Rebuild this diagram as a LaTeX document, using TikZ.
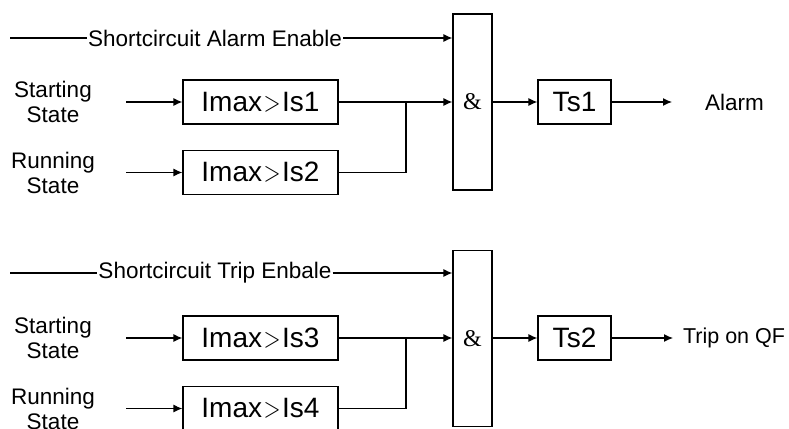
\documentclass[tikz,border=0pt]{standalone}
\usepackage{fontspec}
\setmainfont{Liberation Sans}
\newfontfamily\andfont{Liberation Serif}
\usetikzlibrary{calc, arrows.meta}

\newcommand{\cmpgt}{\kern1.5pt\scalebox{0.9}[1.15]{$>$}\kern1.5pt}
\tikzset{
  blk/.style={draw, minimum height=44pt, inner sep=0pt, font=\fontsize{28}{30}\selectfont},
  lbl/.style={font=\fontsize{22.5}{25}\selectfont, inner sep=0.5pt, align=center},
  andgate/.style={draw, minimum width=39pt, minimum height=176pt, font=\andfont\fontsize{24}{24}\selectfont},
  arr/.style={-{Latex[length=9pt,width=8pt]}},
}

\begin{document}
\begin{tikzpicture}[x=1pt, y=-1pt, line width=1.2pt]
\path[use as bounding box, clip] (0,0) rectangle (789,428);

% alarm part
\node[lbl] (en1) at (215,38) {Shortcircuit Alarm Enable};
\node[lbl] (st1) at (53,102) {Starting\\State};
\node[lbl] (rn1) at (53,172.5) {Running\\State};
\node[blk, minimum width=155pt] (c1) at (260.5,102) {Imax\cmpgt Is1};
\node[blk, minimum width=155pt] (c2) at (260.5,172.5) {Imax\cmpgt Is2};
\node[andgate] (and1) at (472.5,102) {\&};
\node[blk, minimum width=73pt] (t1) at (574.5,102) {Ts1};
\node[lbl] (alarm) at (734.5,102) {Alarm};
\coordinate (a1) at (10,38);
\coordinate (j1) at (406,102);
\coordinate (o1) at (672,102);

\draw (a1) -- (en1.west);
\draw[arr] (en1.east) -- (en1.east -| and1.west);
\draw[arr] ([xshift=-56pt]c1.west) -- (c1.west);
\draw[arr] ([xshift=-56pt]c2.west) -- (c2.west);
\draw[arr] (c1.east) -- (c1.east -| and1.west);
\draw (c2.east) -| (j1);
\draw[arr] (and1.east |- t1) -- (t1.west);
\draw[arr] (t1.east) -- (o1);

% trip part
\node[lbl] (en2) at (215,273) {Shortcircuit Trip Enbale};
\node[lbl] (st2) at (53,338) {Starting\\State};
\node[lbl] (rn2) at (53,408.5) {Running\\State};
\node[blk, minimum width=155pt] (c3) at (260.5,338) {Imax\cmpgt Is3};
\node[blk, minimum width=155pt] (c4) at (260.5,408.5) {Imax\cmpgt Is4};
\node[andgate] (and2) at (472.5,338.5) {\&};
\node[blk, minimum width=73pt] (t2) at (574.5,338) {Ts2};
\node[lbl, anchor=west, font=\fontsize{21.5}{25}\selectfont] (trip) at (682,338) {Trip on QF};
\coordinate (a2) at (10,273);
\coordinate (j2) at (406,338);

\draw (a2) -- (en2.west);
\draw[arr] (en2.east) -- (en2.east -| and2.west);
\draw[arr] ([xshift=-56pt]c3.west) -- (c3.west);
\draw[arr] ([xshift=-56pt]c4.west) -- (c4.west);
\draw[arr] (c3.east) -- (c3.east -| and2.west);
\draw (c4.east) -| (j2);
\draw[arr] (and2.east |- t2) -- (t2.west);
\draw[arr] (t2.east) -- ([xshift=-9pt]trip.west);

\end{tikzpicture}
\end{document}
